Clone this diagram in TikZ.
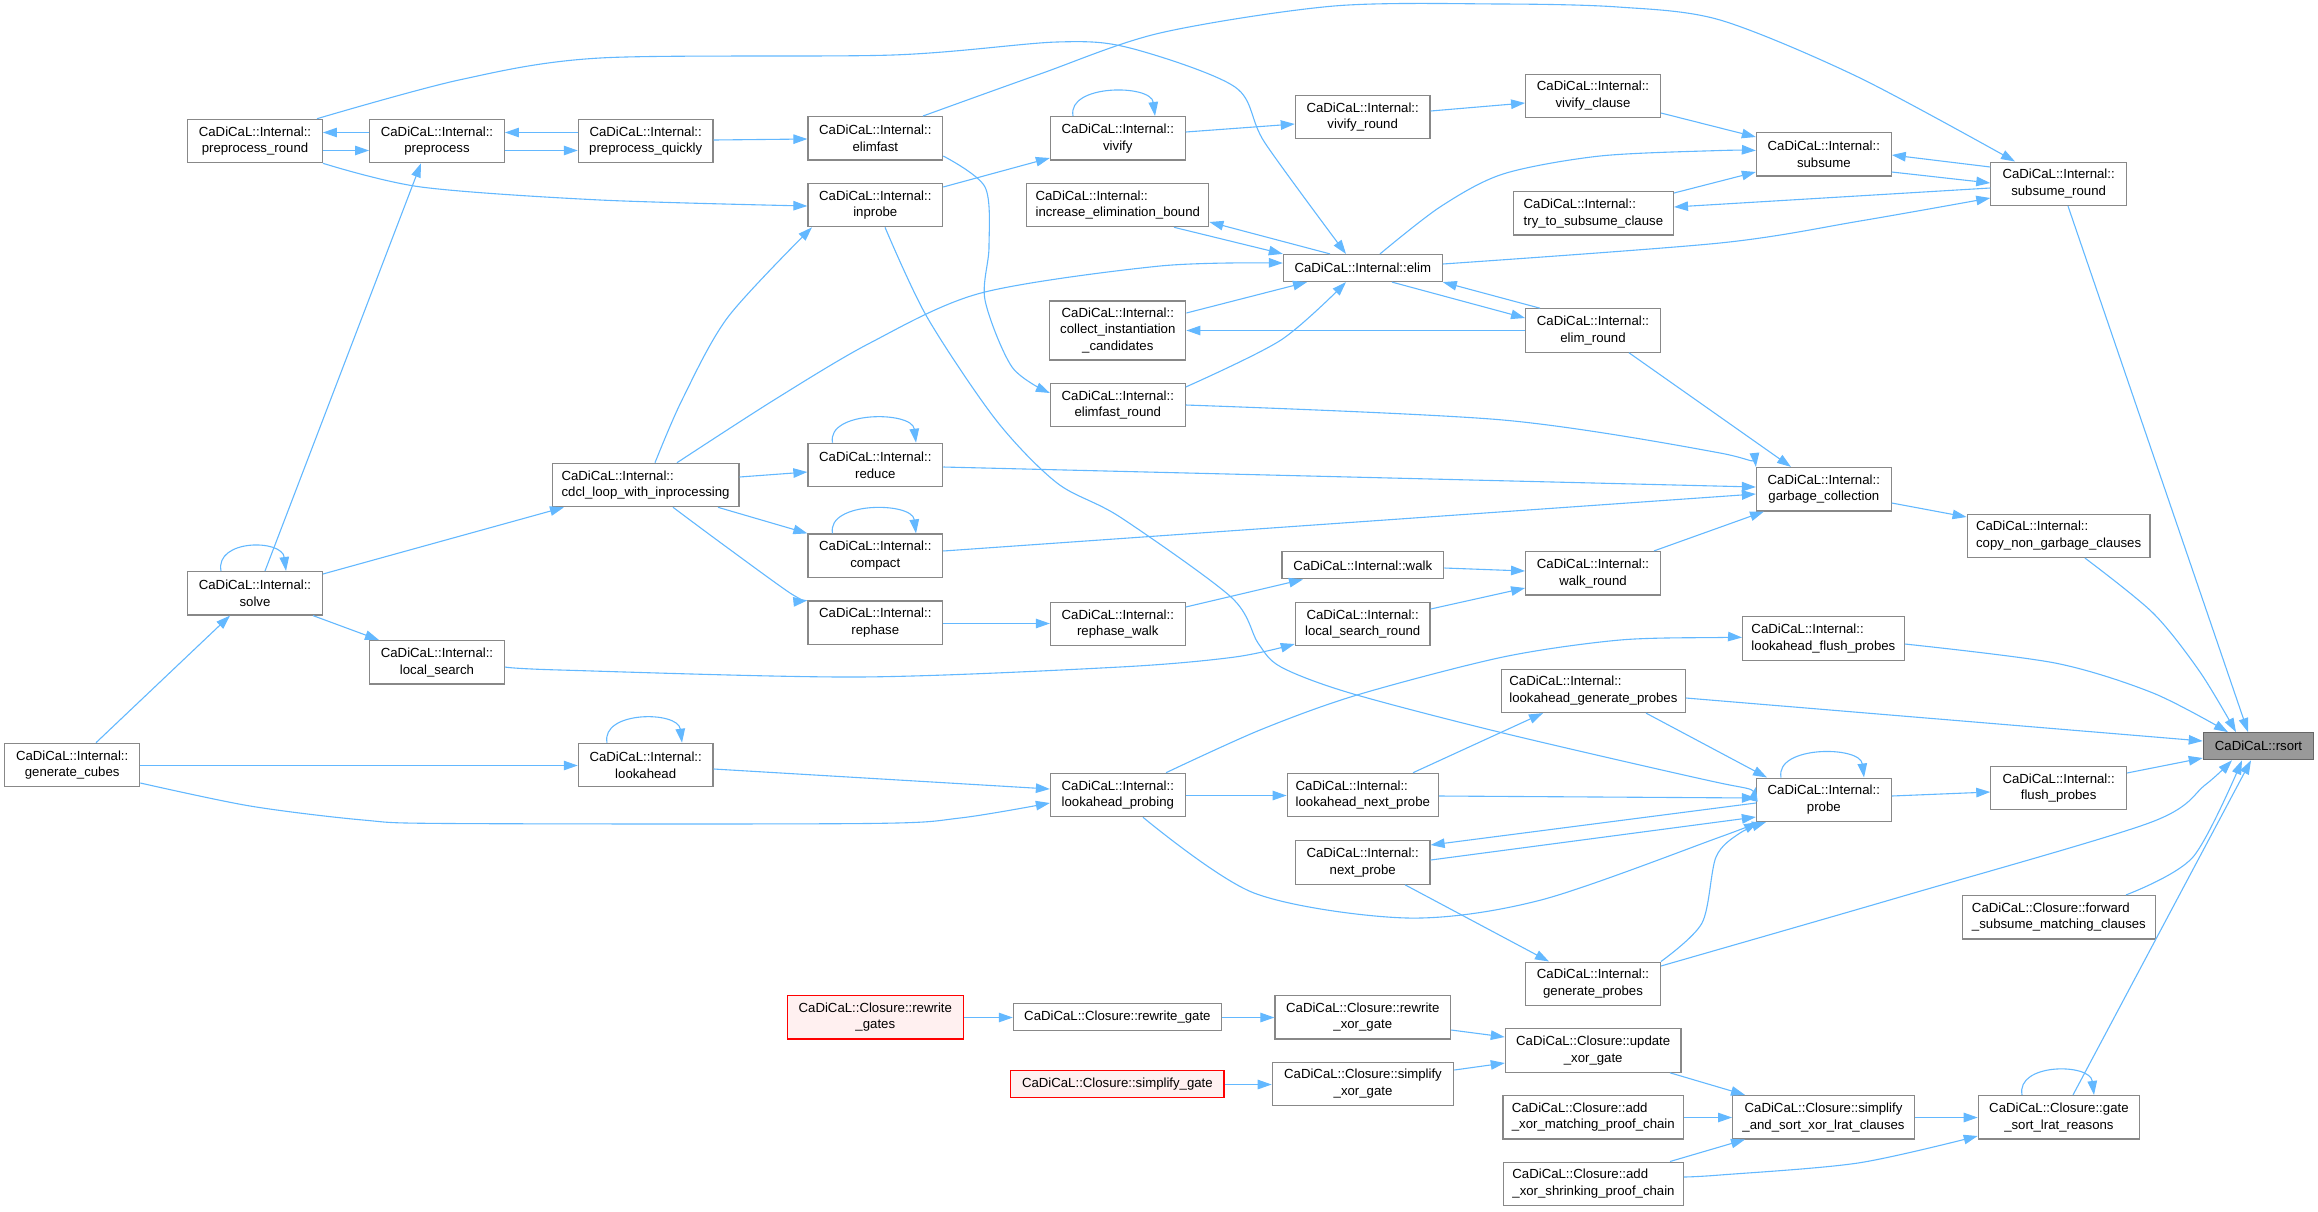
\documentclass[tikz,border=0pt]{standalone}
\usepackage{fontspec}
\setmainfont{Liberation Sans}
\usetikzlibrary{arrows.meta}
\definecolor{edgec}{HTML}{63B8FF}
\definecolor{boxc}{HTML}{888888}
\definecolor{rootfill}{HTML}{999999}
\definecolor{rootdraw}{HTML}{666666}
\definecolor{redfill}{HTML}{FFF0F0}
\definecolor{reddraw}{HTML}{FF0000}
\begin{document}
\begin{tikzpicture}[x=1pt,y=-1pt,
  nb/.style={draw=boxc, fill=white, line width=1.2pt, minimum width=134.7pt, minimum height=43.4pt,
             inner sep=0pt, align=center, font=\fontsize{13.2}{16.7}\selectfont},
  nl/.style={nb, align=left},
  n1/.style={nb, minimum height=27pt},
  redbox/.style={draw=reddraw, fill=redfill},
  rootbox/.style={draw=rootdraw, fill=rootfill},
  e/.style={draw=edgec, line width=1.1pt, line join=round, -{Triangle[length=14pt,width=9.5pt]}},
  sm/.style={smooth, tension=0.5}
]
\useasboundingbox (0,0) rectangle (2318,1211);

% ---------- nodes ----------
\node[nb] (pr) at (255,141) {CaDiCaL::Internal::\\preprocess\_round};
\node[nb] (pp) at (437,141) {CaDiCaL::Internal::\\preprocess};
\node[nb] (pq) at (645.7,141) {CaDiCaL::Internal::\\preprocess\_quickly};
\node[nb] (ef) at (875.3,138.3) {CaDiCaL::Internal::\\elimfast};
\node[nb] (ip) at (875.3,205) {CaDiCaL::Internal::\\inprobe};
\node[nb] (vv) at (1117.8,138.3) {CaDiCaL::Internal::\\vivify};
\node[nl, minimum width=182pt] (ieb) at (1117.8,205) {CaDiCaL::Internal::\\increase\_elimination\_bound};
\node[nb, minimum width=136pt, minimum height=59pt] (cic) at (1117.8,330.5) {CaDiCaL::Internal::\\collect\_instantiation\\\_candidates};
\node[nb] (efr) at (1117.8,405) {CaDiCaL::Internal::\\elimfast\_round};
\node[nb] (vr) at (1362.7,117) {CaDiCaL::Internal::\\vivify\_round};
\node[nb] (vc) at (1593,95.8) {CaDiCaL::Internal::\\vivify\_clause};
\node[n1, minimum width=158.8pt] (el) at (1362.8,268) {CaDiCaL::Internal::elim};
\node[nl, minimum width=160pt] (tts) at (1593.4,213.3) {CaDiCaL::Internal::\\try\_to\_subsume\_clause};
\node[nb] (er) at (1593,330.5) {CaDiCaL::Internal::\\elim\_round};
\node[nb] (sb) at (1823.8,154.3) {CaDiCaL::Internal::\\subsume};
\node[nb, minimum width=135.5pt] (sr) at (2058.6,183.8) {CaDiCaL::Internal::\\subsume\_round};
\node[nb] (so) at (255,593.3) {CaDiCaL::Internal::\\solve};
\node[nl, minimum width=186.8pt] (cd) at (645.6,485) {CaDiCaL::Internal::\\cdcl\_loop\_with\_inprocessing};
\node[nb] (ls) at (437,662.3) {CaDiCaL::Internal::\\local\_search};
\node[nb, minimum width=135.1pt] (gc) at (72.2,765) {CaDiCaL::Internal::\\generate\_cubes};
\node[nb] (la) at (645.7,765) {CaDiCaL::Internal::\\lookahead};
\node[nb] (rd) at (875.3,465) {CaDiCaL::Internal::\\reduce};
\node[nb] (cp) at (875.3,555.7) {CaDiCaL::Internal::\\compact};
\node[nb] (rp) at (875.3,622.7) {CaDiCaL::Internal::\\rephase};
\node[nb] (rw) at (1117.8,624) {CaDiCaL::Internal::\\rephase\_walk};
\node[nb] (lp) at (1117.8,795) {CaDiCaL::Internal::\\lookahead\_probing};
\node[n1, minimum width=161.8pt] (wk) at (1362.8,565.3) {CaDiCaL::Internal::walk};
\node[nb] (wr) at (1593,573.2) {CaDiCaL::Internal::\\walk\_round};
\node[nb] (lsr) at (1362.7,624) {CaDiCaL::Internal::\\local\_search\_round};
\node[nl, minimum width=183.7pt] (lgp) at (1593.4,690.8) {CaDiCaL::Internal::\\lookahead\_generate\_probes};
\node[nl, minimum width=151.2pt] (lnp) at (1362.8,795) {CaDiCaL::Internal::\\lookahead\_next\_probe};
\node[nb] (gcol) at (1823.8,489.2) {CaDiCaL::Internal::\\garbage\_collection};
\node[nl, minimum width=182.9pt] (cng) at (2058.6,535.8) {CaDiCaL::Internal::\\copy\_non\_garbage\_clauses};
\node[nl, minimum width=161.6pt] (lfp) at (1823.4,638.5) {CaDiCaL::Internal::\\lookahead\_flush\_probes};
\node[n1, rootbox, minimum width=110.4pt] (rs) at (2258.5,746.2) {CaDiCaL::rsort};
\node[nb, minimum width=135.5pt] (fp) at (2058.6,788) {CaDiCaL::Internal::\\flush\_probes};
\node[nb] (pb) at (1823.8,799.8) {CaDiCaL::Internal::\\probe};
\node[nb] (np) at (1362.7,862.5) {CaDiCaL::Internal::\\next\_probe};
\node[nb] (gp) at (1593,983.8) {CaDiCaL::Internal::\\generate\_probes};
\node[nb, redbox, minimum width=176pt] (rgs) at (875.3,1017.2) {CaDiCaL::Closure::rewrite\\\_gates};
\node[n1, minimum width=208pt] (rg) at (1117.4,1017) {CaDiCaL::Closure::rewrite\_gate};
\node[n1, redbox, minimum width=213.2pt] (sg) at (1117.4,1083.7) {CaDiCaL::Closure::simplify\_gate};
\node[nb, minimum width=175.6pt] (rxg) at (1362.8,1017.2) {CaDiCaL::Closure::rewrite\\\_xor\_gate};
\node[nb, minimum width=181.4pt] (sxg) at (1363,1083.8) {CaDiCaL::Closure::simplify\\\_xor\_gate};
\node[nb, minimum width=175.7pt] (uxg) at (1593.2,1050.5) {CaDiCaL::Closure::update\\\_xor\_gate};
\node[nl, minimum width=180.6pt] (axm) at (1593.3,1117.2) {CaDiCaL::Closure::add\\\_xor\_matching\_proof\_chain};
\node[nl, minimum width=179.5pt] (axs) at (1593.5,1183.8) {CaDiCaL::Closure::add\\\_xor\_shrinking\_proof\_chain};
\node[nl, minimum width=193.5pt] (fsm) at (2058.9,917.2) {CaDiCaL::Closure::forward\\\_subsume\_matching\_clauses};
\node[nb, minimum width=181.7pt] (ssx) at (1823.5,1117.2) {CaDiCaL::Closure::simplify\\\_and\_sort\_xor\_lrat\_clauses};
\node[nb, minimum width=161.2pt] (gsl) at (2058.9,1117.2) {CaDiCaL::Closure::gate\\\_sort\_lrat\_reasons};

% ---------- edges ----------
% preprocess cluster
\draw[e] (pp.west |- 0,132.5) -- (pr.east |- 0,132.5);
\draw[e] (pr.east |- 0,150.5) -- (pp.west |- 0,150.5);
\draw[e] (pq.west |- 0,132.5) -- (pp.east |- 0,132.5);
\draw[e] (pp.east |- 0,150.5) -- (pq.west |- 0,150.5);
\draw[e] (so.north -| 265,0) -- (pp.south -| 421,0);
\draw[e] plot[sm] coordinates {(pr.north -| 317,0) (459,80) (600,58) (893,55) (1057,42) (1130,48) (1235,87) (1265,143) (el.north -| 1346,0)};
\draw[e] plot[sm] coordinates {(pr.south east) (421,187) (600,200) (ip.west |- 0,206)};
\draw[e] (pq.east |- 0,140) -- (ef.west |- 0,139);
\draw[e] plot[sm] coordinates {(ef.north -| 923,0) (1040,74) (1160,33) (1334,6) (1500,4) (1618,7) (1720,20) (1858,77) (sr.north -| 2015,0)};
\draw[e] plot[sm] coordinates {(ef.east |- 0,156) (985,187) (989,247) (985,300) (1012,367) (efr.west |- 0,393)};
\draw[e] (ip.east |- 0,187) -- (vv.west |- 0,158);
\draw[e] plot[sm] coordinates {(cd.north -| 655,0) (682,400) (728,317) (ip.south -| 812,0)};
\draw[e] plot[sm] coordinates {(cd.north -| 677,0) (774,400) (870,343) (981,293) (1160,266) (el.west |- 0,263)};
\draw[e] (vv.north -| 1073,0) .. controls +(-6,-32) and +(-4,-32) .. (vv.north -| 1155,0);
\draw[e] (vv.east |- 0,132) -- (vr.west |- 0,124);
\draw[e] (vr.east |- 0,111) -- (vc.west |- 0,103);
\draw[e] (vc.east |- 0,113) -- (sb.west |- 0,137);
\draw[e] plot[sm] coordinates {(el.north -| 1380,0) (1440,207) (1503,174) (1600,156) (1720,150.5) (sb.west |- 0,150.5)};
\draw[e] (sr.west |- 0,188) -- (tts.east |- 0,207);
\draw[e] (tts.east |- 0,193) -- (sb.west |- 0,172);
\draw[e] (sb.east |- 0,172) -- (sr.west |- 0,183);
\draw[e] (sr.west |- 0,167) -- (sb.east |- 0,155);
\draw[e] plot[sm] coordinates {(el.east |- 0,264) (1720,243) (1860,221) (sr.west |- 0,198)};
\draw[e] (el.north -| 1330,0) -- (ieb.east |- 0,222);
\draw[e] (ieb.south -| 1174,0) -- (el.north west);
\draw[e] (cic.east |- 0,313) -- (el.south -| 1307,0);
\draw[e] (el.south -| 1392,0) -- (er.west |- 0,318);
\draw[e] (er.north -| 1540,0) -- (el.south east);
\draw[e] (er.west |- 0,330.5) -- (cic.east |- 0,330.5);
\draw[e] plot[sm] coordinates {(efr.east |- 0,387) (1281,340) (el.south -| 1346,0)};
% garbage collection and rsort
\draw[e] (er.south -| 1629,0) -- (gcol.north -| 1791,0);
\draw[e] plot[sm] coordinates {(efr.east |- 0,405) (1503,420) (1720,453) (gcol.north west)};
\draw[e] (rd.east |- 0,467) -- (gcol.west |- 0,487);
\draw[e] (cp.east |- 0,551) -- (gcol.west |- 0,494);
\draw[e] (wr.north -| 1654,0) -- (gcol.south -| 1764,0);
\draw[e] (gcol.east |- 0,503) -- (cng.west |- 0,517);
\draw[e] plot[sm] coordinates {(cng.south -| 2085,0) (2153,613) (2200,672) (rs.north -| 2236,0)};
\draw[e] (sr.south -| 2068,0) -- (rs.north -| 2248,0);
\draw[e] plot[sm] coordinates {(lfp.east |- 0,644) (2055,663) (2153,693) (rs.north -| 2228,0)};
\draw[e] (lgp.east |- 0,698) -- (rs.west |- 0,741);
\draw[e] (fp.east |- 0,773) -- (rs.west |- 0,758);
\draw[e] (pb.east |- 0,796) -- (fp.west |- 0,792);
\draw[e] (pb.north -| 1781,0) .. controls +(-6,-32) and +(-4,-32) .. (pb.north -| 1864,0);
\draw[e] plot[sm] coordinates {(fsm.north -| 2126,0) (2193,857) (rs.south -| 2242,0)};
\draw[e] plot[sm] coordinates {(gp.east |- 0,966) (1900,897) (2149,823) (2205,785) (rs.south -| 2232,0)};
\draw[e] (gsl.north -| 2073,0) -- (rs.south -| 2251,0);
\draw[e] (gsl.north -| 2022,0) .. controls +(-6,-32) and +(-4,-32) .. (gsl.north -| 2094,0);
% closure chain
\draw[e] (ssx.east |- 0,1117.5) -- (gsl.west |- 0,1117.5);
\draw[e] plot[sm] coordinates {(axs.east |- 0,1177) (1720,1175) (1858,1163) (gsl.west |- 0,1136)};
\draw[e] (uxg.south -| 1670,0) -- (ssx.north -| 1745,0);
\draw[e] (axm.east |- 0,1117.5) -- (ssx.west |- 0,1117.5);
\draw[e] (axs.north -| 1670,0) -- (ssx.south -| 1745,0);
\draw[e] (rxg.east |- 0,1030) -- (uxg.west |- 0,1037);
\draw[e] (sxg.east |- 0,1070) -- (uxg.west |- 0,1063);
\draw[e] (rg.east |- 0,1017.5) -- (rxg.west |- 0,1017.5);
\draw[e] (sg.east |- 0,1084.5) -- (sxg.west |- 0,1084.5);
\draw[e] (rgs.east |- 0,1017.5) -- (rg.west |- 0,1017.5);
% probe cluster
\draw[e] (pb.west |- 0,803) -- (np.east |- 0,845);
\draw[e] (np.east |- 0,860) -- (pb.west |- 0,817);
\draw[e] plot[sm] coordinates {(gp.north east) (1702,923) (1716,857) (1740,833) (pb.south -| 1766,0)};
\draw[e] plot[sm] coordinates {(lp.south -| 1143,0) (1254,893) (1407,918) (1541,900) (1720,837) (pb.south -| 1758,0)};
\draw[e] (lnp.east |- 0,796) -- (pb.west |- 0,798);
\draw[e] (lnp.north -| 1413,0) -- (lgp.south -| 1543,0);
\draw[e] (lp.east |- 0,795.5) -- (lnp.west |- 0,795.5);
\draw[e] (la.east |- 0,769) -- (lp.west |- 0,789);
\draw[e] plot[sm] coordinates {(gc.east |- 0,783) (250,806) (363,820) (450,823.5) (866,823.5) (960,818) (lp.west |- 0,803)};
\draw[e] (gc.east |- 0,765.5) -- (la.west |- 0,765.5);
\draw[e] (la.north -| 607,0) .. controls +(-6,-32) and +(-4,-32) .. (la.north -| 682,0);
\draw[e] plot[sm] coordinates {(lp.north -| 1166,0) (1260,730) (1357,695) (1503,657) (1620,640) (1720,637.5) (lfp.west |- 0,637.5)};
\draw[e] (lgp.south -| 1646,0) -- (pb.north -| 1767,0);
\draw[e] (np.south -| 1405,0) -- (gp.north -| 1549,0);
% solve / cdcl cluster
\draw[e] (gc.north -| 96,0) -- (so.south -| 230,0);
\draw[e] (so.north -| 221,0) .. controls +(-6,-32) and +(-4,-32) .. (so.north -| 286,0);
\draw[e] (so.east |- 0,574) -- (cd.south -| 564,0);
\draw[e] (so.south -| 313,0) -- (ls.north -| 379,0);
\draw[e] plot[sm] coordinates {(ls.east |- 0,667) (560,670) (858,677) (1120,667) (1235,657) (lsr.west |- 0,644)};
\draw[e] (lsr.east |- 0,609) -- (wr.west |- 0,588);
\draw[e] (wk.east |- 0,568) -- (wr.west |- 0,571);
\draw[e] (rw.east |- 0,607) -- (wk.south -| 1303,0);
\draw[e] (rp.east |- 0,623.5) -- (rw.west |- 0,623.5);
\draw[e] (cd.east |- 0,477) -- (rd.west |- 0,472);
\draw[e] (cd.south -| 718,0) -- (cp.north west);
\draw[e] plot[sm] coordinates {(cd.south -| 673,0) (721,543) (790,593) (rp.north west)};
\draw[e] (rd.north -| 832.5,0) .. controls +(-6,-32) and +(-4,-32) .. (rd.north -| 916,0);
\draw[e] (cp.north -| 832.5,0) .. controls +(-6,-32) and +(-4,-32) .. (cp.north -| 916,0);
\draw[e] plot[sm] coordinates {(ip.south -| 885,0) (927,317) (996,420) (1057,483) (1120,517) (1231,597) (1258,643) (1281,667) (1350,693) (1503,733) (1720,783) (pb.west |- 0,787)};
\end{tikzpicture}
\end{document}
